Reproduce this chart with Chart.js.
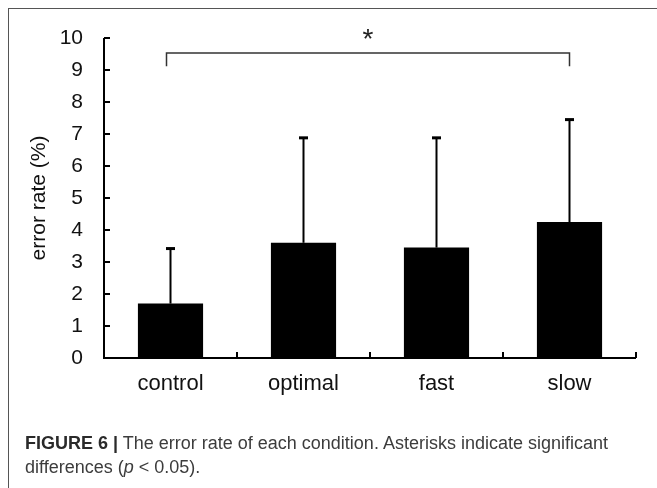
<!DOCTYPE html>
<html>
<head>
<meta charset="utf-8">
<script src="https://cdn.jsdelivr.net/npm/chart.js@4.4.0/dist/chart.umd.min.js"></script>
<style>
  html, body { margin: 0; padding: 0; background: #fff; }
  body { width: 657px; height: 488px; position: relative; overflow: hidden; font-family: "Liberation Sans", Arial, sans-serif; }
  #frame { position: absolute; left: 8px; top: 8px; width: 700px; height: 500px; border-left: 1px solid #555; border-top: 1px solid #555; }
  #chart { position: absolute; left: 0; top: 0; }
  #caption { position: absolute; left: 25px; top: 431px; width: 625px; font-size: 18px; line-height: 24px; color: #3c3c3c; }
  #caption b { color: #2a2a2a; }
</style>
</head>
<body>
<div id="frame"></div>
<canvas id="chart" width="657" height="488"></canvas>
<div id="caption"><b>FIGURE 6 |</b> The error rate of each condition. Asterisks indicate significant differences (<i>p</i> &lt; 0.05).</div>
<script>
const conditions = ["control", "optimal", "fast", "slow"];
const errorRate = [1.7, 3.6, 3.45, 4.25];
const errorUpper = [3.42, 6.88, 6.88, 7.45];
const yTicks = [0, 1, 2, 3, 4, 5, 6, 7, 8, 9, 10];
const sigPair = ["control", "slow"];
const sigLevel = 9.53;
const sigDrop = 9.12;

// axes, error bars and the significance bracket
const decorations = {
    id: 'decorations',
    afterDatasetsDraw(chart) {
        const ctx = chart.ctx;
        const x = chart.scales.x, y = chart.scales.y;
        const area = chart.chartArea;
        const bars = chart.getDatasetMeta(0).data;
        ctx.save();

        // error bars
        ctx.strokeStyle = '#000';
        bars.forEach((bar, i) => {
            const top = y.getPixelForValue(errorUpper[i]);
            ctx.lineWidth = 2;
            ctx.beginPath();
            ctx.moveTo(bar.x, bar.y);
            ctx.lineTo(bar.x, top);
            ctx.stroke();
            ctx.lineWidth = 3;
            ctx.beginPath();
            ctx.moveTo(bar.x - 4.5, top);
            ctx.lineTo(bar.x + 4.5, top);
            ctx.stroke();
        });

        // axis lines
        ctx.lineWidth = 2;
        ctx.beginPath();
        ctx.moveTo(area.left, y.getPixelForValue(10));
        ctx.lineTo(area.left, area.bottom);
        ctx.lineTo(area.right, area.bottom);
        ctx.stroke();

        // y ticks pointing inward
        yTicks.forEach(v => {
            const py = y.getPixelForValue(v);
            ctx.beginPath();
            ctx.moveTo(area.left, py);
            ctx.lineTo(area.left + 6, py);
            ctx.stroke();
        });

        // x ticks at category boundaries
        for (let i = 1; i <= conditions.length; i++) {
            const px = (x.getPixelForValue(i - 1) + x.getPixelForValue(i)) / 2;
            const bx = i === conditions.length ? area.right : px;
            ctx.beginPath();
            ctx.moveTo(bx, area.bottom);
            ctx.lineTo(bx, area.bottom - 6);
            ctx.stroke();
        }

        // significance bracket
        const x1 = x.getPixelForValue(conditions.indexOf(sigPair[0])) - 4;
        const x2 = x.getPixelForValue(conditions.indexOf(sigPair[1]));
        const yl = y.getPixelForValue(sigLevel);
        const yd = y.getPixelForValue(sigDrop);
        ctx.strokeStyle = '#333';
        ctx.lineWidth = 1.5;
        ctx.beginPath();
        ctx.moveTo(x1, yd);
        ctx.lineTo(x1, yl);
        ctx.lineTo(x2, yl);
        ctx.lineTo(x2, yd);
        ctx.stroke();

        ctx.fillStyle = '#222';
        ctx.font = '28px "Liberation Sans", Arial, sans-serif';
        ctx.textAlign = 'center';
        ctx.textBaseline = 'alphabetic';
        ctx.fillText('*', (x1 + x2) / 2, yl - 5);
        ctx.restore();
    }
};

new Chart(document.getElementById('chart'), {
    type: 'bar',
    data: {
        labels: conditions,
        datasets: [{
            data: errorRate,
            backgroundColor: '#000',
            borderWidth: 0,
            categoryPercentage: 1,
            barPercentage: 0.49
        }]
    },
    options: {
        responsive: false,
        animation: false,
        events: [],
        layout: { padding: { top: 38, right: 21, left: 0, bottom: 0 } },
        plugins: { legend: { display: false }, tooltip: { enabled: false } },
        scales: {
            x: {
                grid: { display: false, drawTicks: false },
                border: { display: false },
                ticks: { color: '#111', font: { size: 22, family: '"Liberation Sans", Arial, sans-serif' }, padding: 13 },
                afterFit(scale) { scale.height = 130; }
            },
            y: {
                min: 0, max: 10,
                grid: { display: false, drawTicks: false },
                border: { display: false },
                ticks: { stepSize: 1, color: '#111', font: { size: 21, family: '"Liberation Sans", Arial, sans-serif' }, padding: 21 },
                title: { display: true, text: 'error rate (%)', color: '#111', font: { size: 21, family: '"Liberation Sans", Arial, sans-serif' }, padding: { top: 27, bottom: 0 } },
                afterFit(scale) { scale.width = 104; }
            }
        }
    },
    plugins: [decorations]
});
</script>
</body>
</html>
